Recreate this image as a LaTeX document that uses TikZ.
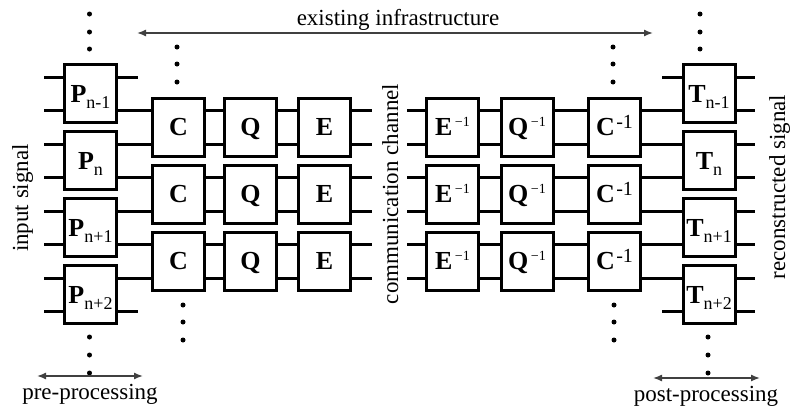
\documentclass[tikz,border=0pt]{standalone}
\usepackage{fontspec}
\setmainfont{Liberation Serif}
\usetikzlibrary{arrows.meta}
\newcommand\lowidx[1]{\raisebox{-6pt}[0pt][0pt]{\fontsize{18}{18}\selectfont\mdseries #1}}
\newcommand\hiidx[1]{\kern2.5pt\raisebox{9pt}[0pt][0pt]{\fontsize{14}{14}\selectfont\mdseries #1}}
\newcommand\hiidxc[1]{\kern1.5pt\raisebox{7pt}[0pt][0pt]{\fontsize{20}{20}\selectfont\mdseries #1}}
\begin{document}
\begin{tikzpicture}[x=1pt,y=-1pt,
  blk/.style={draw,line width=3pt,fill=white,minimum width=52pt,minimum height=58pt,inner sep=0pt,text height=17pt,text depth=0pt,font=\fontsize{26}{26}\selectfont\bfseries},
  wire/.style={line width=3pt},
  dotmark/.style={circle,fill,inner sep=0pt,minimum size=5pt},
  span/.style={line width=1.4pt,draw=black!75,{Latex[length=9pt,width=7pt]}-{Latex[length=9pt,width=7pt]}},
  lbl/.style={font=\fontsize{23}{23}\selectfont,inner sep=0pt}
]
\useasboundingbox (0,0) rectangle (790,407);

% P column
\node[blk] (p1) at (90.5,93.75) {P\lowidx{n-1}};
\node[blk] (p2) at (90.5,160.75) {P\lowidx{n}};
\node[blk] (p3) at (90.5,227.75) {P\lowidx{n+1}};
\node[blk] (p4) at (90.5,294.75) {P\lowidx{n+2}};
% T column
\node[blk] (t1) at (709,93.75) {T\lowidx{n-1}};
\node[blk] (t2) at (709,160.75) {T\lowidx{n}};
\node[blk] (t3) at (709,227.75) {T\lowidx{n+1}};
\node[blk] (t4) at (709,294.75) {T\lowidx{n+2}};

% encoder / decoder chains
\foreach \i/\yy in {1/127.25,2/194.25,3/261.25} {
  \node[blk] (c\i) at (178.5,\yy) {C};
  \node[blk] (q\i) at (250.5,\yy) {Q};
  \node[blk] (e\i) at (324.5,\yy) {E};
  \node[blk] (ei\i) at (452.5,\yy) {E\hiidx{−1}};
  \node[blk] (qi\i) at (527,\yy) {Q\hiidx{−1}};
  \node[blk] (ci\i) at (614.5,\yy) {C\hiidxc{-1}};
}

% outer wires
\foreach \k in {0,...,7} {
  \pgfmathsetmacro\yy{77+33.5*\k}
  \pgfmathtruncatemacro\pidx{int(\k/2)+1}
  \coordinate (Lin\k) at (44,\yy);
  \coordinate (Rout\k) at (755,\yy);
  \draw[wire] (Lin\k) -- (p\pidx.west |- Lin\k);
  \draw[wire] (t\pidx.east |- Rout\k) -- (Rout\k);
}
\coordinate (sa) at (138,77);
\coordinate (sb) at (138,311.5);
\coordinate (sc) at (662,77);
\coordinate (sd) at (662,311.5);
\draw[wire] (p1.east |- sa) -- (sa);
\draw[wire] (p4.east |- sb) -- (sb);
\draw[wire] (sc) -- (t1.west |- sc);
\draw[wire] (sd) -- (t4.west |- sd);

% inner wires
\foreach \k in {1,...,6} {
  \pgfmathsetmacro\yy{77+33.5*\k}
  \pgfmathtruncatemacro\pidx{int(\k/2)+1}
  \pgfmathtruncatemacro\cidx{int((\k-1)/2)+1}
  \coordinate (M\k) at (0,\yy);
  \coordinate (El\k) at (372,\yy);
  \coordinate (Er\k) at (407,\yy);
  \draw[wire] (p\pidx.east |- M\k) -- (c\cidx.west |- M\k);
  \draw[wire] (c\cidx.east |- M\k) -- (q\cidx.west |- M\k);
  \draw[wire] (q\cidx.east |- M\k) -- (e\cidx.west |- M\k);
  \draw[wire] (e\cidx.east |- M\k) -- (El\k);
  \draw[wire] (Er\k) -- (ei\cidx.west |- M\k);
  \draw[wire] (ei\cidx.east |- M\k) -- (qi\cidx.west |- M\k);
  \draw[wire] (qi\cidx.east |- M\k) -- (ci\cidx.west |- M\k);
  \draw[wire] (ci\cidx.east |- M\k) -- (t\pidx.west |- M\k);
}

% dots
\foreach \x/\ya/\yb/\yc [count=\n] in {89.5/14/32/49, 89.5/337/355/373, 177/47/64/82, 183/305/322/340, 613/47/64/82, 614/305/322/340, 700/14/32/49, 708/337/355/373} {
  \node[dotmark] (da\n) at (\x,\ya) {};
  \node[dotmark] (db\n) at (\x,\yb) {};
  \node[dotmark] (dc\n) at (\x,\yc) {};
}

% span arrows and labels
\coordinate (exL) at (137,33);
\coordinate (exR) at (653,33);
\draw[span] (exL) -- (exR);
\node[lbl,anchor=base] (ex) at (398,25) {existing infrastructure};

\coordinate (preL) at (37,376);
\coordinate (preR) at (143,376);
\draw[span] (preL) -- (preR);
\node[lbl,anchor=base] (pre) at (90,399) {pre-processing};

\coordinate (postL) at (653,378);
\coordinate (postR) at (760,378);
\draw[span] (postL) -- (postR);
\node[lbl,anchor=base] (post) at (706,401) {post-processing};

\node[lbl,rotate=90,anchor=base] (ins) at (28,198) {input signal};
\node[lbl,rotate=90,anchor=base] (rec) at (785,187) {reconstructed signal};
\node[lbl,rotate=90,anchor=base] (cc) at (398,194) {communication channel};
\end{tikzpicture}
\end{document}
